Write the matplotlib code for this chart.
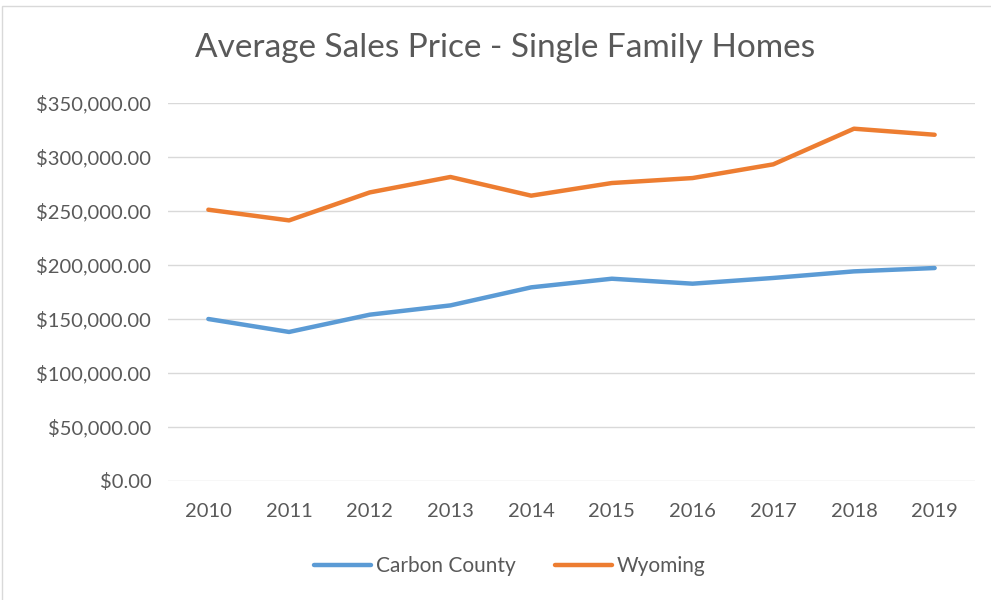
import matplotlib.pyplot as plt
from matplotlib.patches import Rectangle
from matplotlib.ticker import FuncFormatter

years = ["2010", "2011", "2012", "2013", "2014", "2015", "2016", "2017", "2018", "2019"]
carbon_county = [150000, 138000, 154000, 162600, 179300, 187300, 182700, 188000, 194100, 197200]
wyoming = [251200, 241300, 267200, 281500, 264200, 275900, 280500, 293200, 326200, 320600]

text_color = "#595959"
plt.rcParams["font.family"] = ["Lato", "DejaVu Sans"]

fig = plt.figure(figsize=(9.91, 6), dpi=100)
ax = fig.add_axes([168 / 991, 1 - 481 / 600, (975 - 168) / 991, (481 - 103) / 600])

x = list(range(len(years)))
ax.plot(x, carbon_county, color="#5B9BD5", lw=3.2, solid_capstyle="round", label="Carbon County")
ax.plot(x, wyoming, color="#ED7D31", lw=3.2, solid_capstyle="round", label="Wyoming")

ax.set_xlim(-0.5, len(years) - 0.5)
ax.set_ylim(0, 350000)
ax.set_yticks(range(0, 350001, 50000))
ax.yaxis.set_major_formatter(FuncFormatter(lambda v, p: f"${v:,.2f}"))
ax.set_xticks(x)
ax.set_xticklabels(years)
ax.grid(axis="y", color="#D9D9D9", lw=1)
ax.set_axisbelow(True)
for s in ax.spines.values():
    s.set_visible(False)
ax.tick_params(length=0, labelsize=14.5, colors=text_color, pad=12)
ax.tick_params(axis="x", pad=16)

fig.text(505 / 991, 1 - 48 / 600, "Average Sales Price - Single Family Homes",
         ha="center", va="center", fontsize=24, color=text_color)

fig.legend(loc="center", bbox_to_anchor=(510 / 991, 1 - 566 / 600), ncol=2, frameon=False,
           fontsize=15, labelcolor=text_color, handlelength=2.7, columnspacing=1.9, handletextpad=0.25)

# light chart border
fig.patches.append(Rectangle((2 / 991, -0.01), 1.0, 1.0, transform=fig.transFigure,
                             fill=False, edgecolor="#D9D9D9", lw=1))

fig.savefig("out.png", dpi=100)
